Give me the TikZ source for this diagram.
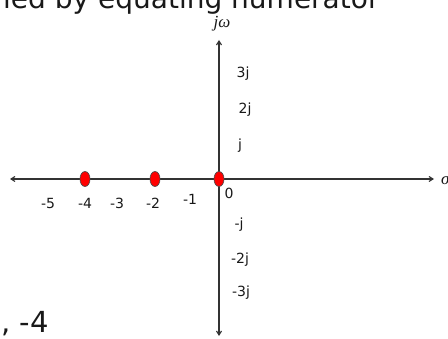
\documentclass[tikz,border=0pt]{standalone}
\usepackage{fontspec}
\setmainfont{DejaVu Sans}
\newfontfamily\seriffont{Liberation Serif}
\usetikzlibrary{arrows.meta,positioning,shapes.geometric}

\begin{document}
\begin{tikzpicture}[x=1pt, y=-1pt, >={Straight Barb[length=4pt,width=5pt]}, every node/.style={font=\fontsize{14}{16}\selectfont, inner sep=0pt, text=black!90}, pole/.style={draw=black!70, fill=red, ellipse, minimum width=10pt, minimum height=15pt, line width=0.7pt}, axislabel/.style={font=\seriffont\itshape\fontsize{17}{18}\selectfont}]
\useasboundingbox (0,0) rectangle (448,339);
\clip (0,0) rectangle (448,339);
\node[anchor=base west, font=\fontsize{28}{30}\selectfont] (title) at (3,9) {ied by equating numerator};
\node[anchor=base west, font=\fontsize{29}{30}\selectfont] (roots) at (1,333) {, -4};
% axes
\coordinate (left) at (10,179);
\coordinate (right) at (434,179);
\coordinate (top) at (219,40);
\coordinate (bottom) at (219,336);
\draw[->, line width=1.1pt, black!80] (219,179) -- (left);
\draw[->, line width=1.1pt, black!80] (219,179) -- (right);
\draw[->, line width=1.1pt, black!80] (219,179) -- (top);
\draw[->, line width=1.1pt, black!80] (219,179) -- (bottom);
\node[axislabel] (jw) at (222,24) {jω};
\node[axislabel, anchor=west] (sigma) at (441,180) {σ};
% real axis ticks
\node (m5) at (48,203) {-5};
\node (m4) at (85,203) {-4};
\node (m3) at (117,203) {-3};
\node (m2) at (153,203) {-2};
\node (m1) at (190,199) {-1};
\node (zero) at (229,193) {0};
% imaginary axis ticks
\node (p3j) at (243,74) {3j};
\node (p2j) at (245,110) {2j};
\node (p1j) at (240,146) {j};
\node (n1j) at (239,225) {-j};
\node (n2j) at (240,260) {-2j};
\node (n3j) at (241,293) {-3j};
% poles
\node[pole] (s4) at (85,179) {};
\node[pole] (s2) at (155,179) {};
\node[pole] (s0) at (219,179) {};
\end{tikzpicture}
\end{document}
